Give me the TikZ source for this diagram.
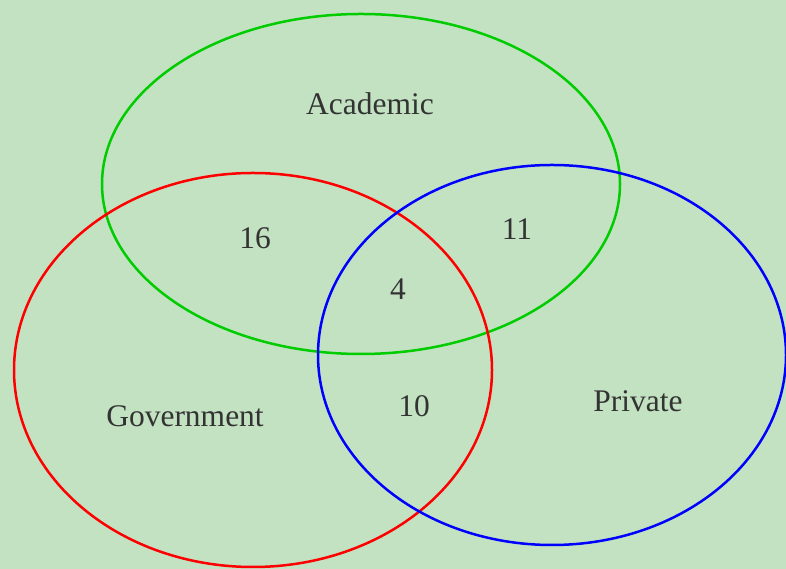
\documentclass[tikz,border=0pt]{standalone}
\usepackage{tikz}
\usepackage{fontspec}
\setmainfont{Liberation Serif}
\usetikzlibrary{calc}
\definecolor{paper}{HTML}{C3E2C2}
\definecolor{ink}{HTML}{333333}
\definecolor{acad}{HTML}{00CC00}
\definecolor{gov}{HTML}{FF0000}
\definecolor{priv}{HTML}{0000FF}

\begin{document}
\begin{tikzpicture}[x=1pt,y=1pt,
    lbl/.style={text=ink,font=\fontsize{31.5}{31.5}\selectfont,inner sep=0pt},
    ring/.style={line width=2.5pt}]

    \fill[paper] (0,0) rectangle (786,569);
    \useasboundingbox (0,0) rectangle (786,569);

    % the three sets
    \draw[ring,acad] (361,385) ellipse (259 and 170);
    \draw[ring,gov]  (253,199) ellipse (239 and 197);
    \draw[ring,priv] (552,214) ellipse (234 and 190);

    \node[lbl] (acad) at (370,465) {Academic};
    \node[lbl] (gov)  at (185,153) {Government};
    \node[lbl] (priv) at (638,168) {Private};

    \node[lbl] (ag)  at (255,331) {16};
    \node[lbl] (ap)  at (517,340) {11};
    \node[lbl] (agp) at (398,280) {4};
    \node[lbl] (gp)  at (414,163) {10};
\end{tikzpicture}
\end{document}
